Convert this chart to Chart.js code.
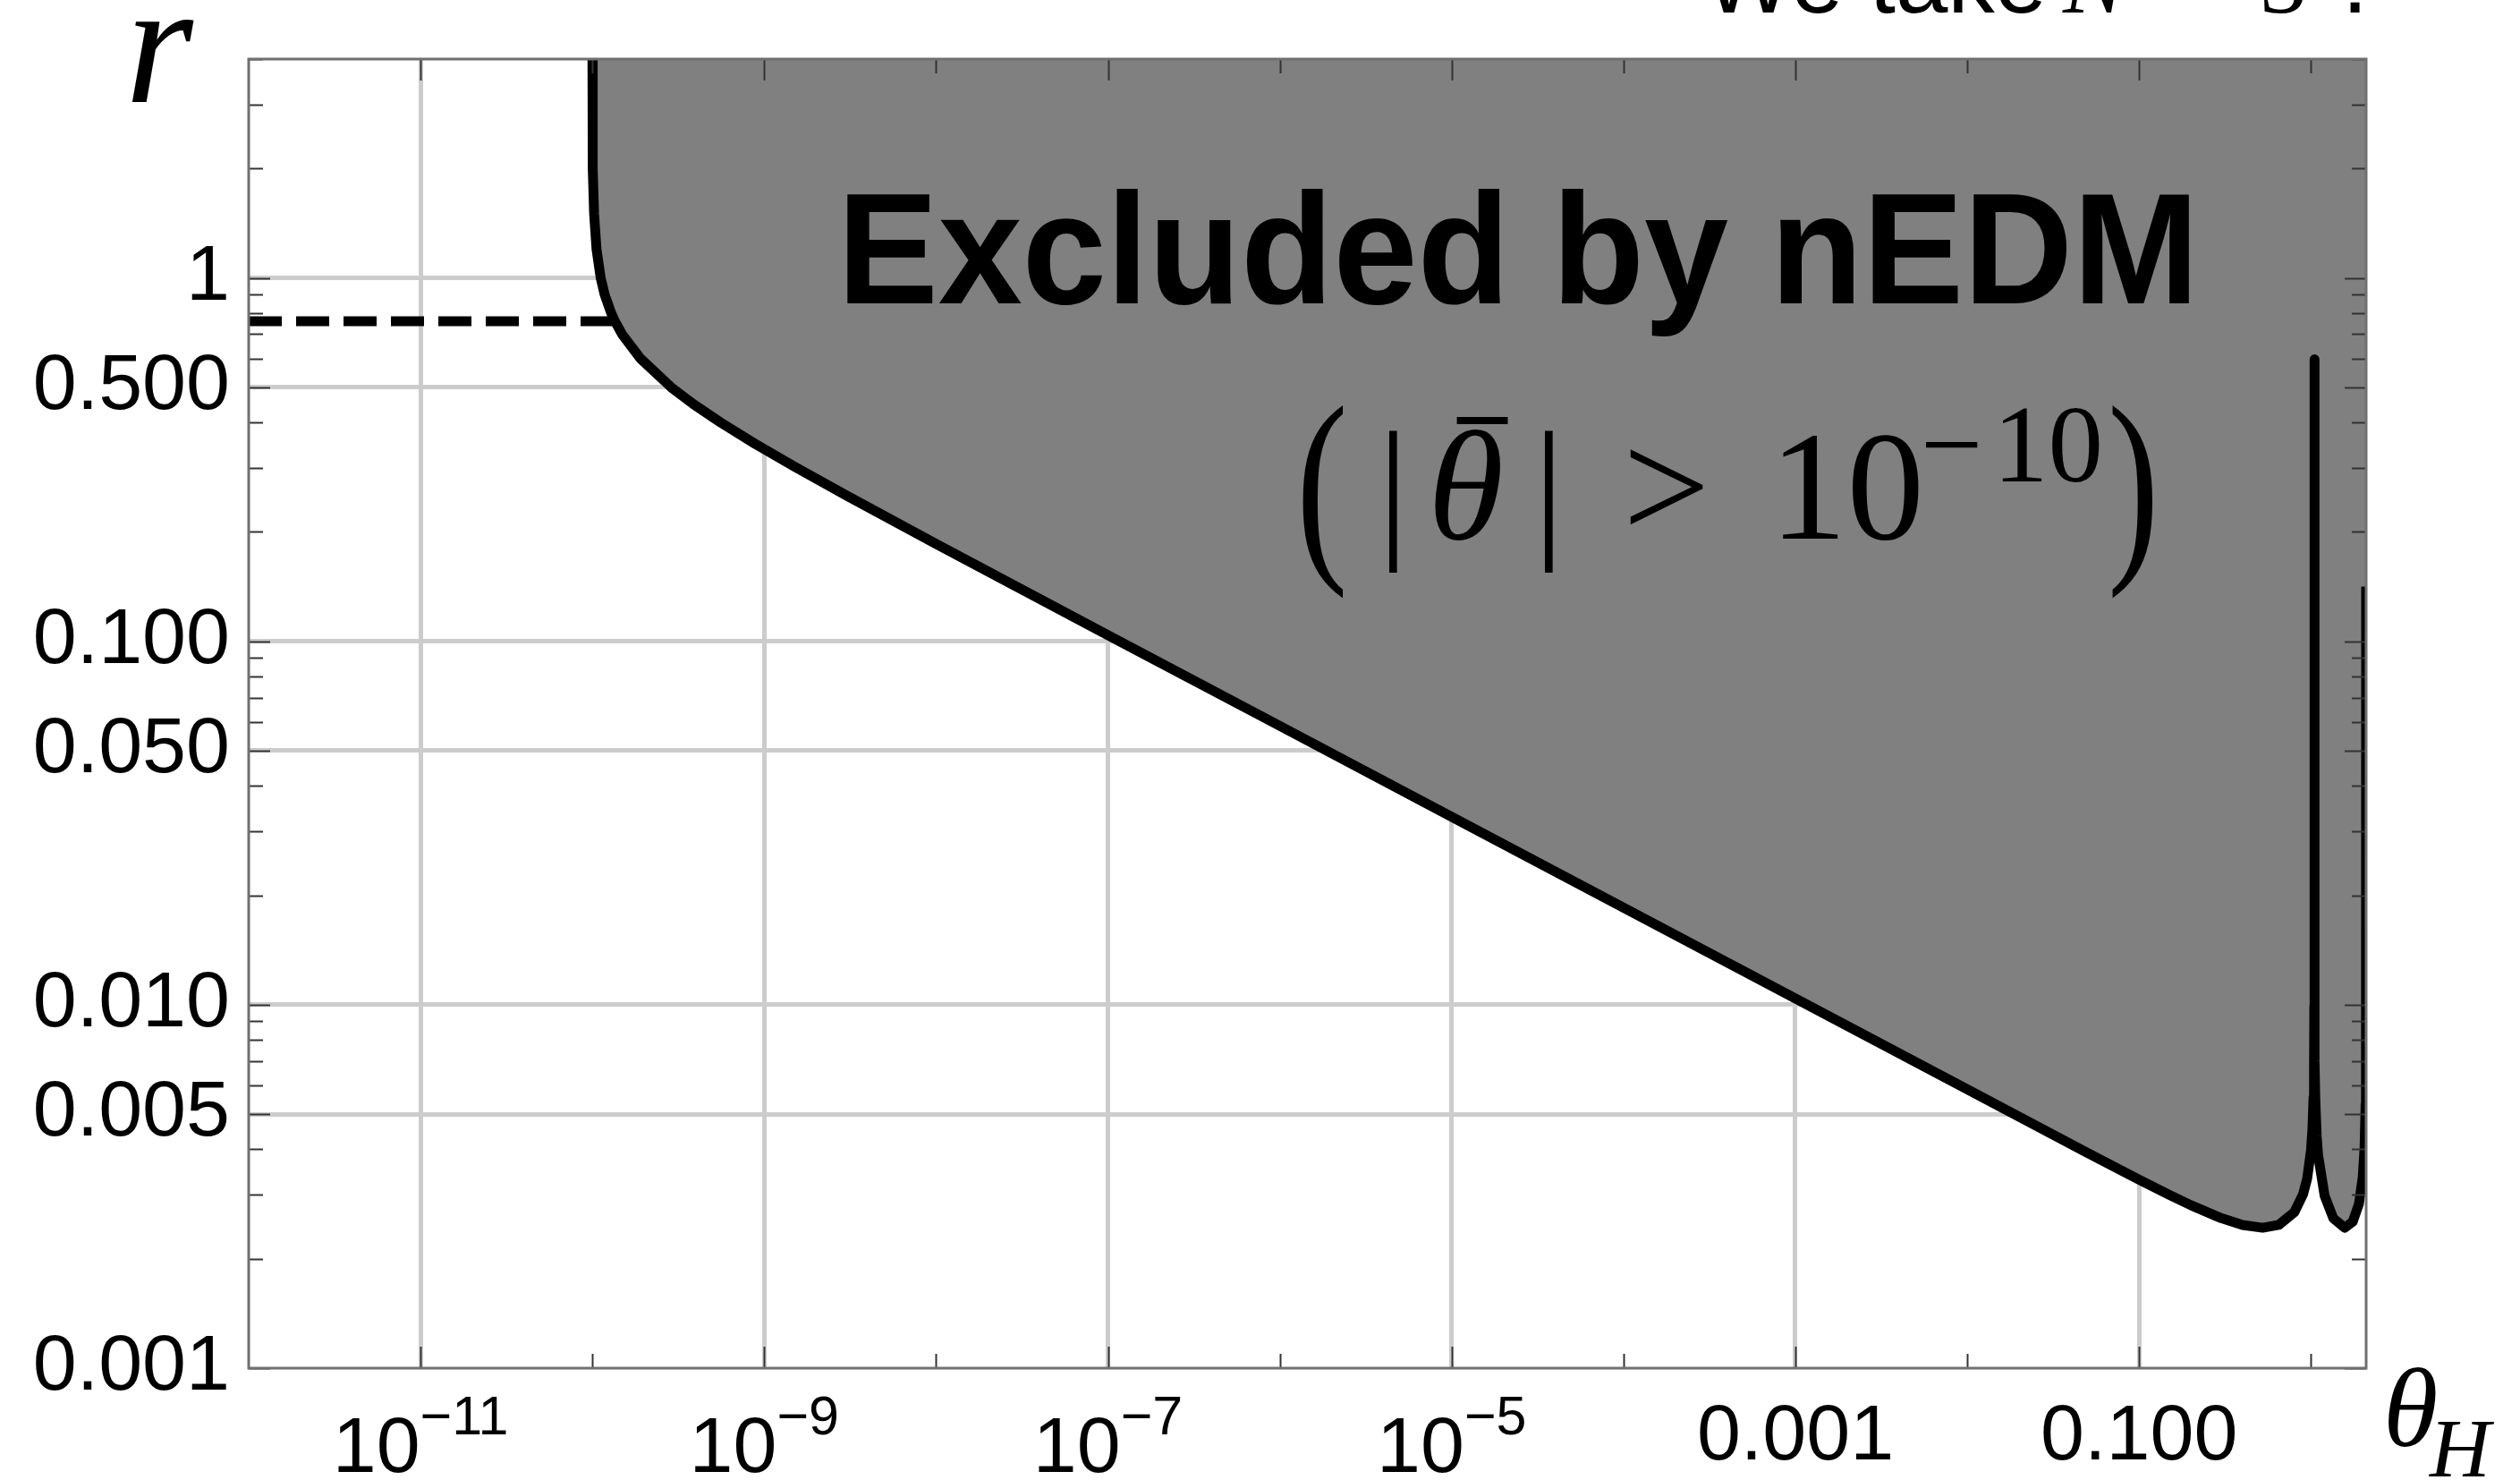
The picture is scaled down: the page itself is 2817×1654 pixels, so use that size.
<!DOCTYPE html>
<html><head><meta charset="utf-8">
<script src="https://cdn.jsdelivr.net/npm/chart.js@4.4.1/dist/chart.umd.min.js"></script>
<style>html,body{margin:0;padding:0;background:#fff;overflow:hidden}#wrap{width:2817px;height:1654px}</style>
</head><body><div id="wrap"><canvas id="c" width="2817" height="1654"></canvas></div>
<script>
// ---- data ----
const thetaH = [1.0005e-10, 1.0014e-10, 1.0073e-10, 1.0231e-10, 1.0564e-10, 1.117e-10, 1.178e-10, 1.286e-10, 1.351e-10, 1.487e-10, 1.903e-10, 2.872e-10, 3.853e-10, 5.57e-10, 8.8e-10, 1.5e-9, 3e-9, 1e-8, 1e-7, 1e-6, 1e-5, 1e-4, 1e-3, 1e-2, 0.05, 0.1, 0.15, 0.2, 0.3, 0.4, 0.5236, 0.65, 0.8, 0.9, 0.95, 1.0, 1.02, 1.035, 1.042, 1.046, 1.0472, 1.0485, 1.052, 1.06, 1.08, 1.1, 1.2, 1.35, 1.5708, 1.75, 1.9, 2.0, 2.05, 2.08, 2.09, 2.0944];
const rBoundary = [4.0, 3.0, 2.0, 1.5, 1.2, 1.0, 0.9, 0.8, 0.76, 0.7, 0.6, 0.5, 0.45, 0.4, 0.35, 0.3023, 0.2520, 0.1854, 0.1040, 0.0585, 0.0329, 0.0185, 0.0104, 0.00585, 0.003914, 0.003301, 0.002997, 0.002808, 0.002587, 0.002477, 0.002434, 0.002479, 0.002685, 0.003010, 0.003318, 0.003971, 0.004554, 0.005566, 0.006888, 0.00994, 0.597, 0.00973, 0.007025, 0.005499, 0.004347, 0.003862, 0.002984, 0.002583, 0.002434, 0.002528, 0.002827, 0.003348, 0.004032, 0.00534, 0.00718, 0.1415];
const dashTheta = [1e-12, 1.351e-10];
const dashR = [0.76, 0.76];

const xRange = [1e-12, 2.0944];
const yRange = [0.001, 4];
const xTicks = [1e-11, 1e-9, 1e-7, 1e-5, 1e-3, 0.1];
const xTickLabels = ['10\u221211', '10\u22129', '10\u22127', '10\u22125', '0.001', '0.100'];
const xTickBase = ['10', '10', '10', '10', '0.001', '0.100'];
const xTickExp = ['\u221211', '\u22129', '\u22127', '\u22125', '', ''];
const xMinorTicks = [1e-10, 1e-8, 1e-6, 1e-4, 1e-2, 1];
const yTicks = [0.001, 0.005, 0.01, 0.05, 0.1, 0.5, 1];
const yTickLabels = ['0.001', '0.005', '0.010', '0.050', '0.100', '0.500', '1'];
const yMinorTicks = [0.002, 0.003, 0.004, 0.006, 0.007, 0.008, 0.009, 0.02, 0.03, 0.04, 0.06, 0.07, 0.08, 0.09, 0.2, 0.3, 0.4, 0.6, 0.7, 0.8, 0.9, 2, 3, 4];

const regionLabel = 'Excluded by nEDM';
const xTitle = ['\u03B8', 'H'];
const yTitle = 'r';

const curvePoints = thetaH.map((t, i) => ({x: t, y: rBoundary[i]}));
const dashPoints = dashTheta.map((t, i) => ({x: t, y: dashR[i]}));

const SANS = '"Liberation Sans", Arial, sans-serif';
const SERIF = '"Liberation Serif", "Times New Roman", serif';

function put(ctx, s, x, y, font, align, maxW) {
  ctx.font = font; ctx.textAlign = align || 'left'; ctx.textBaseline = 'alphabetic'; ctx.fillStyle = '#000';
  if (maxW) ctx.fillText(s, x, y, maxW); else ctx.fillText(s, x, y);
}
function putScaled(ctx, s, x, y, font, sy) {
  ctx.save(); ctx.translate(x, y); ctx.scale(1, sy);
  put(ctx, s, 0, 0, font); ctx.restore();
}

const decor = {
  id: 'decor',
  afterDatasetsDraw(chart) {
    const {ctx, chartArea: a, scales: {x, y}} = chart;
    ctx.save();
    ctx.strokeStyle = '#333'; ctx.lineWidth = 2;
    const seg = (x1, y1, x2, y2) => { ctx.beginPath(); ctx.moveTo(x1, y1); ctx.lineTo(x2, y2); ctx.stroke(); };
    const xt = (vals, len) => vals.forEach(v => { const p = Math.round(x.getPixelForValue(v)) + 0.5; seg(p, a.bottom, p, a.bottom - len); seg(p, a.top, p, a.top + len); });
    const yt = (vals, len) => vals.forEach(v => { const p = Math.round(y.getPixelForValue(v)) + 0.5; seg(a.left, p, a.left + len, p); seg(a.right, p, a.right - len, p); });
    xt(xTicks, 24); xt(xMinorTicks, 16);
    yt(yTicks, 24); yt(yMinorTicks, 16);
    ctx.strokeStyle = '#707070'; ctx.lineWidth = 3;
    ctx.strokeRect(a.left, a.top, a.right - a.left, a.bottom - a.top);
    ctx.restore();
  },
  afterDraw(chart) {
    const {ctx, chartArea: a, scales: {x}} = chart;
    ctx.save();
    // x tick labels (base with raised exponent)
    xTicks.forEach((v, i) => {
      const px = x.getPixelForValue(v);
      if (xTickExp[i]) {
        ctx.font = '88px ' + SANS; const wb = ctx.measureText(xTickBase[i]).width;
        ctx.font = '61px ' + SANS; const we = ctx.measureText(xTickExp[i]).width;
        const x0 = px - (wb + we) / 2;
        put(ctx, xTickBase[i], x0, a.bottom + 116, '88px ' + SANS);
        put(ctx, xTickExp[i], x0 + wb, a.bottom + 74, '61px ' + SANS);
      } else {
        put(ctx, xTickBase[i], px, a.bottom + 102, '88px ' + SANS, 'center');
      }
    });
    // axis titles
    put(ctx, yTitle, 140, 114, 'italic 195px ' + SERIF);
    put(ctx, xTitle[0], 2664, 1616, 'italic 125px ' + SERIF);
    put(ctx, xTitle[1], 2716, 1650, 'italic 94px ' + SERIF);
    // region label
    put(ctx, regionLabel, 936, 339, 'bold 176px ' + SANS, 'left', 1522);
    // (|θ̄| > 10^-10)
    putScaled(ctx, '(', 1449, 618, '173px ' + SERIF, 1.376);
    put(ctx, '|', 1540, 602, '173px ' + SERIF);
    put(ctx, '\u03B8', 1596, 602, 'italic 173px ' + SERIF);
    put(ctx, '\u00AF', 1657, 597, '173px ' + SERIF, 'center', 55);
    put(ctx, '|', 1714, 602, '173px ' + SERIF);
    put(ctx, '>', 1814, 602, '173px ' + SERIF);
    put(ctx, '10', 1978, 602, '173px ' + SERIF);
    put(ctx, '\u2212', 2147, 538, '123px ' + SERIF);
    put(ctx, '10', 2228, 538, '123px ' + SERIF);
    putScaled(ctx, ')', 2356, 618, '173px ' + SERIF, 1.376);
    // cropped note at the top
    put(ctx, 'We take', 1905, 14, '105px ' + SANS);
    put(ctx, 'N', 2306, 14, 'italic 105px ' + SERIF);
    put(ctx, '=', 2420, 2, '105px ' + SERIF);
    put(ctx, '3', 2526, 14, '105px ' + SERIF);
    put(ctx, '.', 2618, 14, '105px ' + SANS);
    ctx.restore();
  }
};

new Chart(document.getElementById('c'), {
  type: 'line',
  data: {
    datasets: [
      {data: curvePoints, borderColor: '#000', borderWidth: 11, backgroundColor: '#808080', fill: 'end', pointRadius: 0, tension: 0, borderJoinStyle: 'round'},
      {data: dashPoints, borderColor: '#000', borderWidth: 11, borderDash: [37, 16], fill: false, pointRadius: 0, borderCapStyle: 'butt'}
    ]
  },
  options: {
    responsive: false, animation: false, devicePixelRatio: 1,
    layout: {padding: {top: 66, right: 172, bottom: 0, left: 0}},
    plugins: {legend: {display: false}, tooltip: {enabled: false}},
    scales: {
      x: {
        type: 'logarithmic', min: xRange[0], max: xRange[1], position: 'bottom',
        afterBuildTicks: s => { s.ticks = xTicks.map(v => ({value: v})); },
        afterFit: s => { s.height = 125; },
        grid: {color: '#cccccc', lineWidth: 5, drawTicks: false},
        border: {display: false},
        ticks: {display: false, autoSkip: false, callback: (v, i) => xTickLabels[i]}
      },
      y: {
        type: 'logarithmic', min: yRange[0], max: yRange[1], position: 'left',
        afterBuildTicks: s => { s.ticks = yTicks.map(v => ({value: v})); },
        afterFit: s => { s.width = 278; },
        grid: {color: c => (c.tick && c.tick.value === 0.001) ? 'rgba(0,0,0,0)' : '#cccccc', lineWidth: 5, drawTicks: false},
        border: {display: false},
        ticks: {autoSkip: false, padding: 21, color: '#000', callback: (v, i) => yTickLabels[i], font: {family: SANS, size: 88, lineHeight: 1}}
      }
    }
  },
  plugins: [decor]
});
</script></body></html>
